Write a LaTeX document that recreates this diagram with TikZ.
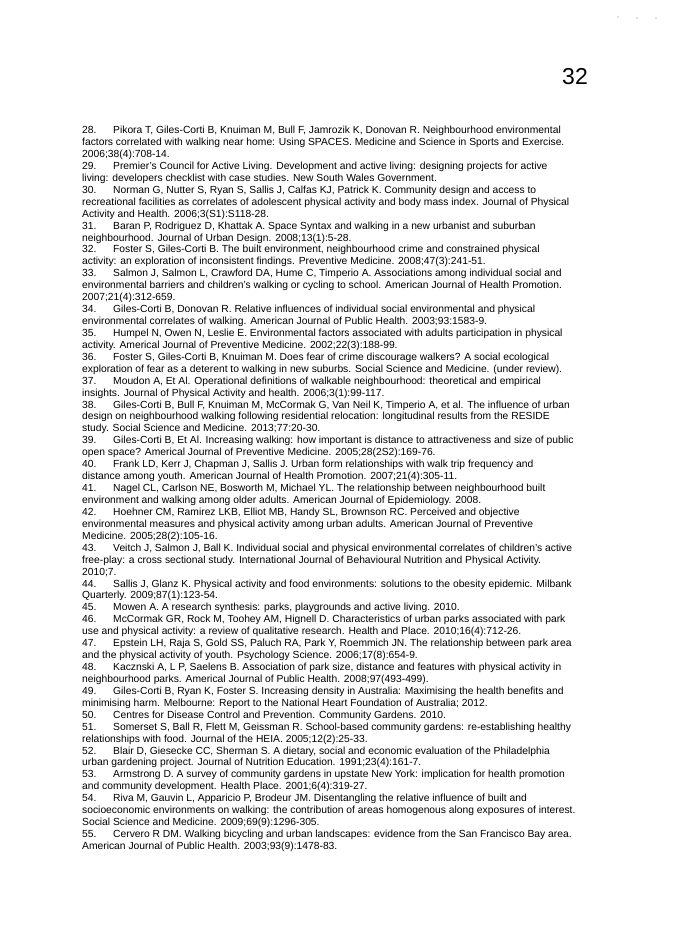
\documentclass[tikz,border=0pt]{standalone}
\usepackage{fontspec}
\setmainfont{Liberation Sans}
\newcommand{\rn}[1]{\makebox[31pt][l]{#1}}
\begin{document}
\begin{tikzpicture}[x=1pt,y=-1pt]
\useasboundingbox[fill=white] (0,0) rectangle (675,948);
\tikzset{body/.style={anchor=north west,inner sep=0pt,align=left,font=\fontsize{10.3pt}{11.93pt}\selectfont}}
\node[anchor=base east,inner sep=0pt,font=\fontsize{23pt}{23pt}\selectfont] (pg) at (588,84) {32};
\fill[gray] (618,17) circle (0.6) (637,18) circle (0.6) (656,18) circle (0.6);
\node[body] (refs) at (82,126) {%
\rn{28.}Pikora T, Giles-Corti B, Knuiman M, Bull F, Jamrozik K, Donovan R. Neighbourhood environmental\\
factors correlated with walking near home: Using SPACES. Medicine and Science in Sports and Exercise.\\
2006;38(4):708-14.\\
\rn{29.}Premier's Council for Active Living. Development and active living: designing projects for active\\
living: developers checklist with case studies. New South Wales Government.\\
\rn{30.}Norman G, Nutter S, Ryan S, Sallis J, Calfas KJ, Patrick K. Community design and access to\\
recreational facilities as correlates of adolescent physical activity and body mass index. Journal of Physical\\
Activity and Health. 2006;3(S1):S118-28.\\
\rn{31.}Baran P, Rodriguez D, Khattak A. Space Syntax and walking in a new urbanist and suburban\\
neighbourhood. Journal of Urban Design. 2008;13(1):5-28.\\
\rn{32.}Foster S, Giles-Corti B. The built environment, neighbourhood crime and constrained physical\\
activity: an exploration of inconsistent findings. Preventive Medicine. 2008;47(3):241-51.\\
\rn{33.}Salmon J, Salmon L, Crawford DA, Hume C, Timperio A. Associations among individual social and\\
environmental barriers and children's walking or cycling to school. American Journal of Health Promotion.\\
2007;21(4):312-659.\\
\rn{34.}Giles-Corti B, Donovan R. Relative influences of individual social environmental and physical\\
environmental correlates of walking. American Journal of Public Health. 2003;93:1583-9.\\
\rn{35.}Humpel N, Owen N, Leslie E. Environmental factors associated with adults participation in physical\\
activity. Americal Journal of Preventive Medicine. 2002;22(3):188-99.\\
\rn{36.}Foster S, Giles-Corti B, Knuiman M. Does fear of crime discourage walkers? A social ecological\\
exploration of fear as a deterent to walking in new suburbs. Social Science and Medicine. (under review).\\
\rn{37.}Moudon A, Et Al. Operational definitions of walkable neighbourhood: theoretical and empirical\\
insights. Journal of Physical Activity and health. 2006;3(1):99-117.\\
\rn{38.}Giles-Corti B, Bull F, Knuiman M, McCormak G, Van Neil K, Timperio A, et al. The influence of urban\\
design on neighbourhood walking following residential relocation: longitudinal results from the RESIDE\\
study. Social Science and Medicine. 2013;77:20-30.\\
\rn{39.}Giles-Corti B, Et Al. Increasing walking: how important is distance to attractiveness and size of public\\
open space? Americal Journal of Preventive Medicine. 2005;28(2S2):169-76.\\
\rn{40.}Frank LD, Kerr J, Chapman J, Sallis J. Urban form relationships with walk trip frequency and\\
distance among youth. American Journal of Health Promotion. 2007;21(4):305-11.\\
\rn{41.}Nagel CL, Carlson NE, Bosworth M, Michael YL. The relationship between neighbourhood built\\
environment and walking among older adults. American Journal of Epidemiology. 2008.\\
\rn{42.}Hoehner CM, Ramirez LKB, Elliot MB, Handy SL, Brownson RC. Perceived and objective\\
environmental measures and physical activity among urban adults. American Journal of Preventive\\
Medicine. 2005;28(2):105-16.\\
\rn{43.}Veitch J, Salmon J, Ball K. Individual social and physical environmental correlates of children's active\\
free-play: a cross sectional study. International Journal of Behavioural Nutrition and Physical Activity.\\
2010;7.\\
\rn{44.}Sallis J, Glanz K. Physical activity and food environments: solutions to the obesity epidemic. Milbank\\
Quarterly. 2009;87(1):123-54.\\
\rn{45.}Mowen A. A research synthesis: parks, playgrounds and active living. 2010.\\
\rn{46.}McCormak GR, Rock M, Toohey AM, Hignell D. Characteristics of urban parks associated with park\\
use and physical activity: a review of qualitative research. Health and Place. 2010;16(4):712-26.\\
\rn{47.}Epstein LH, Raja S, Gold SS, Paluch RA, Park Y, Roemmich JN. The relationship between park area\\
and the physical activity of youth. Psychology Science. 2006;17(8):654-9.\\
\rn{48.}Kacznski A, L P, Saelens B. Association of park size, distance and features with physical activity in\\
neighbourhood parks. Americal Journal of Public Health. 2008;97(493-499).\\
\rn{49.}Giles-Corti B, Ryan K, Foster S. Increasing density in Australia: Maximising the health benefits and\\
minimising harm. Melbourne: Report to the National Heart Foundation of Australia; 2012.\\
\rn{50.}Centres for Disease Control and Prevention. Community Gardens. 2010.\\
\rn{51.}Somerset S, Ball R, Flett M, Geissman R. School-based community gardens: re-establishing healthy\\
relationships with food. Journal of the HEIA. 2005;12(2):25-33.\\
\rn{52.}Blair D, Giesecke CC, Sherman S. A dietary, social and economic evaluation of the Philadelphia\\
urban gardening project. Journal of Nutrition Education. 1991;23(4):161-7.\\
\rn{53.}Armstrong D. A survey of community gardens in upstate New York: implication for health promotion\\
and community development. Health Place. 2001;6(4):319-27.\\
\rn{54.}Riva M, Gauvin L, Apparicio P, Brodeur JM. Disentangling the relative influence of built and\\
socioeconomic environments on walking: the contribution of areas homogenous along exposures of interest.\\
Social Science and Medicine. 2009;69(9):1296-305.\\
\rn{55.}Cervero R DM. Walking bicycling and urban landscapes: evidence from the San Francisco Bay area.\\
American Journal of Public Health. 2003;93(9):1478-83.};
\end{tikzpicture}
\end{document}
